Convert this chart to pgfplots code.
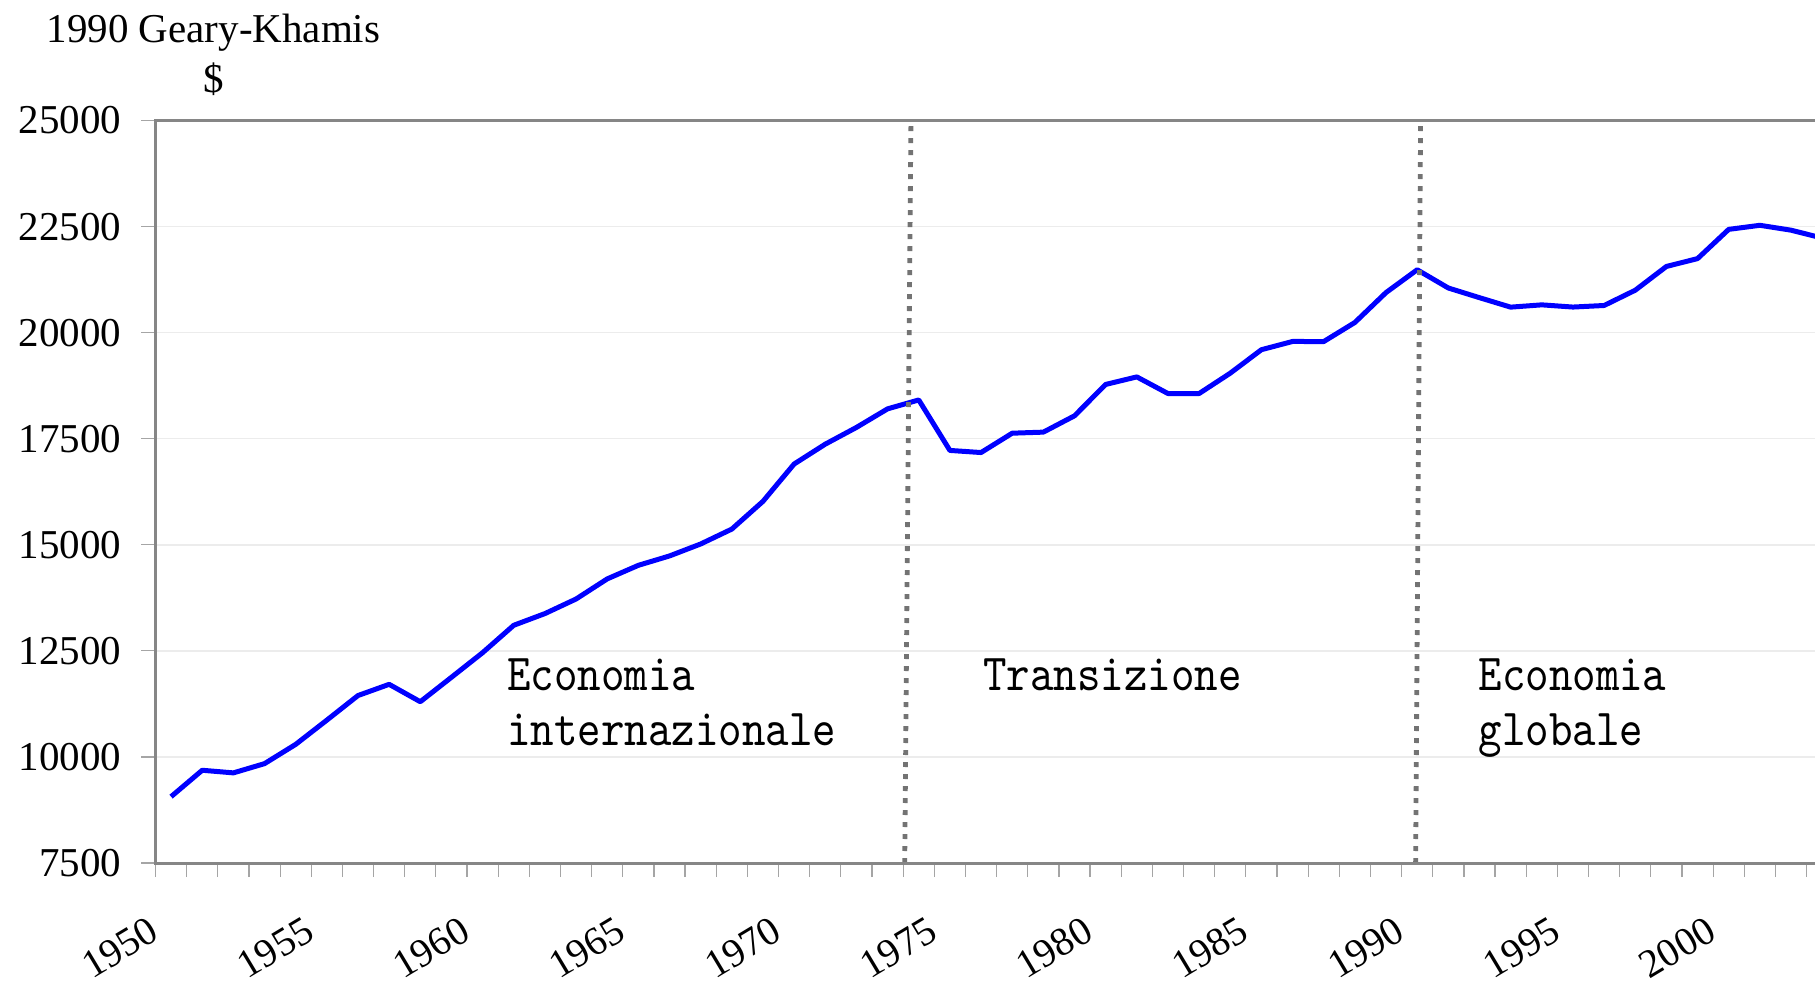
\documentclass[border=0pt]{standalone}
\usepackage{fontspec}
\setmainfont{Liberation Serif}
\newfontfamily\labelfont[FakeStretch=0.86]{lmmono10-regular.otf}
\usepackage{pgfplots}
\pgfplotsset{compat=1.18}
\definecolor{axgray}{RGB}{134,134,134}
\definecolor{tickgray}{RGB}{165,165,165}
\definecolor{gridgray}{RGB}{236,236,236}
\definecolor{dotgray}{RGB}{115,115,115}
\definecolor{lineblue}{RGB}{0,0,255}
\pgfplotstableread{
year value
1950 9064
1951 9686
1952 9624
1953 9842
1954 10296
1955 10867
1956 11447
1957 11711
1958 11301
1959 11877
1960 12457
1961 13103
1962 13378
1963 13722
1964 14196
1965 14516
1966 14737
1967 15019
1968 15370
1969 16024
1970 16904
1971 17372
1972 17766
1973 18204
1974 18414
1975 17224
1976 17174
1977 17630
1978 17655
1979 18040
1980 18779
1981 18957
1982 18565
1983 18565
1984 19045
1985 19598
1986 19792
1987 19790
1988 20240
1989 20945
1990 21482
1991 21052
1992 20824
1993 20601
1994 20655
1995 20603
1996 20640
1997 21000
1998 21560
1999 21745
2000 22434
2001 22530
2002 22415
2003 22230
}\datatable
\begin{document}
\begin{tikzpicture}
\useasboundingbox (0,0) rectangle (907.5pt,493pt);
\clip (0,0) rectangle (907.5pt,493pt);
\node[anchor=base west, inner sep=0pt, font=\fontsize{20.5}{20.5}\selectfont] at (23.15pt,471.6pt) {1990 Geary-Khamis};
\node[anchor=base, inner sep=0pt, font=\fontsize{20.5}{20.5}\selectfont] at (107pt,446.7pt) {\$};
\begin{axis}[
  at={(77.75pt,61.5pt)}, anchor=south west,
  scale only axis, width=829.75pt, height=371.25pt,
  xmin=1949.5, xmax=2002.77, ymin=7500, ymax=25000,
  clip=false,
  axis line style={draw=none},
  tick align=outside,
  xtick pos=left, ytick pos=left,
  major tick length=0pt,
  minor tick length=7pt,
  tick style={color=tickgray, line width=0.6pt},
  scaled y ticks=false,
  scaled x ticks=false,
  ytick={7500,10000,...,25000},
  minor ytick={7500,10000,...,25000},
  xtick={1950,1955,...,2000},
  minor xtick={1949.5,1950.5,...,2002.5},
  ymajorgrids,
  grid style={color=gridgray, line width=0.75pt},
  /pgf/number format/1000 sep={},
  /pgf/number format/assume math mode=true,
  yticklabel style={xshift=-17pt, font=\fontsize{20.5}{20.5}\selectfont, anchor=east, inner sep=0pt},
  xticklabel style={xshift=-12pt, yshift=-26pt, font=\fontsize{20}{20}\selectfont, rotate=31, anchor=north east, inner sep=0pt},
]
\addplot[color=lineblue, line width=2.5pt, line join=round, mark=none] table[x=year, y=value] {\datatable};
\draw[dotgray, line width=2.4pt, dash pattern=on 2.4pt off 3.6pt] (axis cs:1973.55,7500) -- (axis cs:1973.75,25000);
\draw[dotgray, line width=2.4pt, dash pattern=on 2.4pt off 3.6pt] (axis cs:1989.95,7500) -- (axis cs:1990.11,25000);
\draw[axgray, line width=1.5pt] (rel axis cs:1.01,1) -- (rel axis cs:0,1) -- (rel axis cs:0,0) -- (rel axis cs:1.01,0);
\begin{scope}[every node/.style={anchor=base west, inner sep=0pt, font=\labelfont\fontsize{26}{26}\selectfont}]
\node at (axis cs:1960.78,11577) {Economia};
\node at (axis cs:1960.78,10258) {internazionale};
\node at (axis cs:1976.06,11577) {Transizione};
\node at (axis cs:1991.96,11577) {Economia};
\node at (axis cs:1991.96,10258) {globale};
\end{scope}
\end{axis}
\end{tikzpicture}
\end{document}
